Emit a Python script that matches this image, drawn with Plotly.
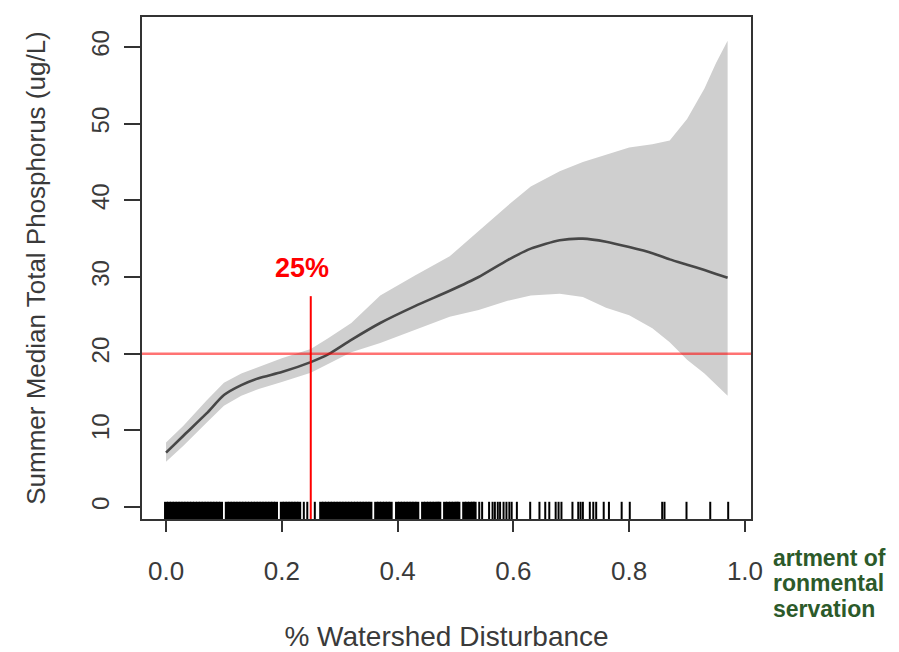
import plotly.graph_objects as go

# ---- data ----
disturbance = [0.00, 0.03, 0.07, 0.10, 0.13, 0.16, 0.20, 0.25, 0.28, 0.32, 0.37, 0.43, 0.49,
               0.54, 0.59, 0.63, 0.68, 0.72, 0.76, 0.80, 0.84, 0.87, 0.90, 0.93, 0.95, 0.97]
tp_fit = [7.1, 9.3, 12.2, 14.6, 15.9, 16.8, 17.6, 18.9, 19.9, 21.8, 24.0, 26.2, 28.2,
          30.0, 32.2, 33.7, 34.8, 35.0, 34.6, 33.9, 33.1, 32.3, 31.6, 30.9, 30.4, 29.9]
tp_upper = [8.4, 10.6, 13.9, 16.2, 17.4, 18.3, 19.4, 20.6, 22.0, 24.0, 27.6, 30.2, 32.7,
            36.0, 39.3, 41.8, 43.8, 45.0, 46.0, 46.9, 47.3, 47.8, 50.6, 54.6, 57.9, 60.8]
tp_lower = [5.9, 8.0, 11.0, 13.2, 14.5, 15.4, 16.3, 17.5, 18.6, 20.2, 21.4, 23.1, 24.8,
            25.7, 26.9, 27.6, 27.8, 27.4, 26.0, 25.0, 23.3, 21.5, 19.2, 17.4, 16.0, 14.5]

# observed disturbance values (rug)
rug_dense = [0.000, 0.005, 0.010, 0.015, 0.020, 0.025, 0.030, 0.035, 0.040, 0.045, 0.050,
             0.055, 0.060, 0.065, 0.070, 0.075, 0.080, 0.085, 0.090, 0.095,
             0.105, 0.110, 0.115, 0.120, 0.125, 0.130, 0.135, 0.140, 0.145, 0.150, 0.155,
             0.160, 0.165, 0.170, 0.175, 0.180, 0.185, 0.190,
             0.200, 0.205, 0.210, 0.215, 0.220, 0.225, 0.230,
             0.268, 0.273, 0.278, 0.283, 0.288, 0.293, 0.298, 0.303, 0.308, 0.313, 0.318,
             0.323, 0.328, 0.333, 0.338, 0.343, 0.348, 0.353,
             0.363, 0.368, 0.373, 0.378, 0.383, 0.388,
             0.399, 0.404, 0.409, 0.414, 0.419, 0.424, 0.429, 0.434,
             0.444, 0.449, 0.454, 0.459, 0.464, 0.469, 0.472,
             0.482, 0.487, 0.492, 0.497, 0.502, 0.505,
             0.515, 0.520, 0.525, 0.530, 0.533]
rug_sparse = [0.238, 0.244, 0.257, 0.541, 0.546, 0.558, 0.564, 0.568, 0.573, 0.577, 0.583,
              0.588, 0.593, 0.597, 0.606, 0.629, 0.645, 0.655, 0.662, 0.673, 0.678, 0.683,
              0.702, 0.712, 0.716, 0.720, 0.732, 0.738, 0.743, 0.756, 0.765, 0.787, 0.801,
              0.857, 0.861, 0.899, 0.940, 0.971]

x_ticks = [0.0, 0.2, 0.4, 0.6, 0.8, 1.0]
x_ticklabels = ["0.0", "0.2", "0.4", "0.6", "0.8", "1.0"]
y_ticks = [0, 10, 20, 30, 40, 50, 60]
y_ticklabels = ["0", "10", "20", "30", "40", "50", "60"]

tp_threshold = 20
dist_threshold = 0.25
dist_line_top = 27.5
threshold_label = "25%"
label_pos = (0.235, 31.2)

x_title = "% Watershed Disturbance"
y_title = "Summer Median Total Phosphorus (ug/L)"
logo_lines = ["artment of", "ronmental", "servation"]

x_range = [-0.0415, 1.0104]
y_range = [-1.565, 63.91]
rug_top = 0.68

TEXT = "#3a3a3a"
FONT = "Liberation Sans, Arial, sans-serif"

fig = go.Figure()

# confidence band
fig.add_trace(go.Scatter(
    x=disturbance + disturbance[::-1],
    y=tp_upper + tp_lower[::-1],
    fill="toself", fillcolor="#cfcfcf", line=dict(width=0),
    mode="lines", hoverinfo="skip", showlegend=False))

# fitted curve
fig.add_trace(go.Scatter(
    x=disturbance, y=tp_fit, mode="lines",
    line=dict(color="#474747", width=2.6, shape="spline", smoothing=0.6),
    showlegend=False))


def rug_xy(vals):
    xs, ys = [], []
    for v in vals:
        xs += [v, v, None]
        ys += [y_range[0], rug_top, None]
    return xs, ys


rx, ry = rug_xy(rug_dense)
fig.add_trace(go.Scatter(x=rx, y=ry, mode="lines",
                         line=dict(color="black", width=4), showlegend=False,
                         hoverinfo="skip"))
rx, ry = rug_xy(rug_sparse)
fig.add_trace(go.Scatter(x=rx, y=ry, mode="lines",
                         line=dict(color="black", width=2), showlegend=False,
                         hoverinfo="skip"))

# threshold lines
fig.add_shape(type="line", xref="x", yref="y",
              x0=x_range[0], x1=x_range[1], y0=tp_threshold, y1=tp_threshold,
              line=dict(color="rgba(255,0,0,0.55)", width=2.5), layer="above")
fig.add_shape(type="line", xref="x", yref="y",
              x0=dist_threshold, x1=dist_threshold, y0=y_range[0], y1=dist_line_top,
              line=dict(color="#ff0000", width=2), layer="above")

fig.add_annotation(x=label_pos[0], y=label_pos[1], xref="x", yref="y",
                   text="<b>" + threshold_label + "</b>", showarrow=False,
                   font=dict(family=FONT, size=27, color="#ff0000"),
                   xanchor="center", yanchor="middle")

for i, line in enumerate(logo_lines):
    fig.add_annotation(x=1.033, y=-0.0777 - 0.0505 * i, xref="paper", yref="paper",
                       text="<b>" + line + "</b>", showarrow=False,
                       font=dict(family=FONT, size=23, color="#2c5a2a"),
                       xanchor="left", yanchor="middle")

axis_common = dict(showgrid=False, zeroline=False, showline=True, mirror=True,
                   linecolor="#333333", linewidth=2, ticks="outside",
                   tickcolor="#333333", tickwidth=1.5, automargin=False)

# the page body adds an 8px offset, so margins are shifted to compensate
fig.update_layout(
    width=883, height=644,
    margin=dict(l=134, r=140, t=9, b=133),
    paper_bgcolor="white", plot_bgcolor="white",
    font=dict(family=FONT, color=TEXT),
    showlegend=False,
    xaxis=dict(range=x_range, tickvals=x_ticks, ticktext=x_ticklabels,
               ticklen=11, ticklabelstandoff=17,
               tickfont=dict(size=26, color=TEXT),
               title=dict(text=x_title, font=dict(size=28, color=TEXT), standoff=45),
               **axis_common),
    yaxis=dict(range=y_range, tickvals=y_ticks, ticktext=y_ticklabels,
               ticklen=16, tickangle=-90, ticklabelstandoff=5,
               tickfont=dict(size=24, color=TEXT),
               title=dict(text=y_title, font=dict(size=26, color=TEXT), standoff=34),
               **axis_common),
)

fig.write_html("out.html")
